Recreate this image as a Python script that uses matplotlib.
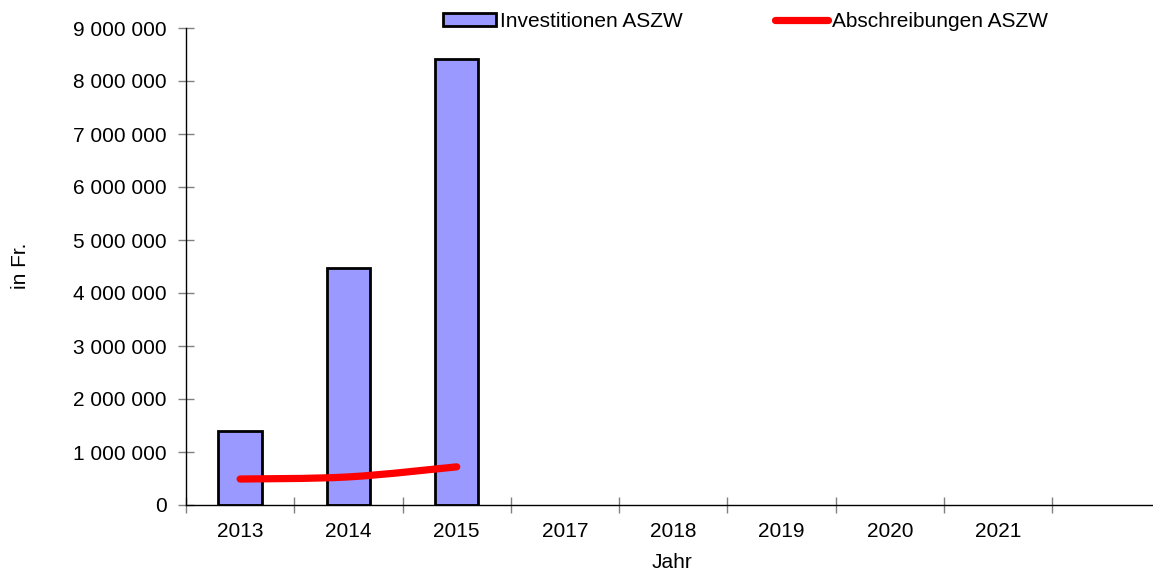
import matplotlib
matplotlib.use("Agg")
import matplotlib.pyplot as plt
from matplotlib.path import Path
from matplotlib.patches import PathPatch, Patch
from matplotlib.lines import Line2D
import numpy as np

categories = ["2013", "2014", "2015", "2017", "2018", "2019", "2020", "2021", ""]
investitionen = [1400000, 4480000, 8420000]
abschreibungen = [490000, 530000, 720000]
yticks = [0, 1000000, 2000000, 3000000, 4000000, 5000000, 6000000, 7000000, 8000000, 9000000]

plt.rcParams['font.family'] = ['Liberation Sans', 'DejaVu Sans']
FS = 15

fig = plt.figure(figsize=(11.53, 5.74), dpi=100)
ax = fig.add_axes([186/1153, 69/574, 1 - 186/1153, (505-28)/574])

x = np.arange(len(categories))
ax.bar(x[:len(investitionen)], investitionen, width=0.4, color="#9999FF",
       edgecolor="black", linewidth=2, zorder=2)

# smooth line (Catmull-Rom as cubic Bezier segments) through data points
px = x[:len(abschreibungen)].astype(float)
py = np.array(abschreibungen, dtype=float)
pts = np.column_stack([px, py])
verts = [tuple(pts[0])]
codes = [Path.MOVETO]
n = len(pts)
for i in range(n - 1):
    p0 = pts[i - 1] if i > 0 else pts[i]
    p1 = pts[i]
    p2 = pts[i + 1]
    p3 = pts[i + 2] if i + 2 < n else pts[i + 1]
    c1 = p1 + (p2 - p0) / 6.0
    c2 = p2 - (p3 - p1) / 6.0
    verts += [tuple(c1), tuple(c2), tuple(p2)]
    codes += [Path.CURVE4] * 3
ax.add_patch(PathPatch(Path(verts, codes), facecolor="none", edgecolor="red",
                       linewidth=5.2, capstyle="round", zorder=3))

ax.set_xlim(-0.5, 8.43)
ax.set_ylim(0, 9000000)
ax.set_yticks(yticks)
ax.set_yticklabels([f"{v:,}".replace(",", " ") for v in yticks])
ax.set_xticks(x)
ax.set_xticklabels(categories)
ax.set_xticks(np.arange(-0.5, 8.0, 1.0), minor=True)
ax.tick_params(axis="x", which="major", length=0, labelsize=FS, pad=12)
ax.tick_params(axis="x", which="minor", length=12, direction="inout", color="#808080", width=1)
ax.tick_params(axis="y", which="major", length=12, direction="inout", color="#808080", width=1,
               labelsize=FS, pad=8)

for s in ["top", "right"]:
    ax.spines[s].set_visible(False)
ax.spines["left"].set_linewidth(1)
ax.spines["bottom"].set_linewidth(1)

ax.set_ylabel("in Fr.", fontsize=FS, va="center")
ax.yaxis.set_label_coords((20 - 186) / 967, (505 - 266) / 477)
ax.set_xlabel("Jahr", fontsize=FS, va="center")
ax.xaxis.set_label_coords((672 - 186) / 967, (505 - 563) / 477)

handles = [Patch(facecolor="#9999FF", edgecolor="black", linewidth=2),
           Line2D([0], [0], color="red", linewidth=5.2, solid_capstyle="round")]
fig.legend(handles, ["Investitionen ASZW", "Abschreibungen ASZW"], loc="upper left",
           bbox_to_anchor=(443/1153, 1 - 12/574), ncol=2, frameon=False, fontsize=FS,
           borderpad=0, borderaxespad=0,
           handlelength=2.55, handleheight=0.58, handletextpad=0.2, columnspacing=4.4)

fig.savefig("out.png", dpi=100)
